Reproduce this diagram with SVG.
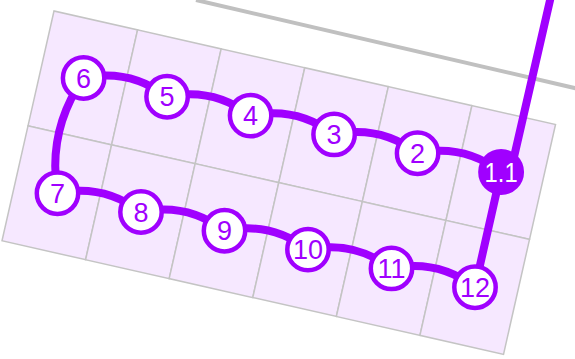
<svg xmlns="http://www.w3.org/2000/svg" width="575" height="359" viewBox="0 0 575 359">
<style>
.cell{fill:#f6e8ff;stroke:#c4c4c4;stroke-width:1.5}
.wire{fill:none;stroke:#a000ff;stroke-width:8;stroke-linecap:round;stroke-linejoin:round}
.node circle{fill:#ffffff;stroke:#a000ff;stroke-width:4.5}
.node text{font-family:"Liberation Sans",Arial,sans-serif;font-size:27px;fill:#a000ff;text-anchor:middle}
#n1_1 circle{fill:#a000ff}
#n1_1 text{fill:#ffffff}
</style>
<rect width="575" height="359" fill="#ffffff"/>
<line x1="196" y1="0" x2="577" y2="88.6" stroke="#c0c0c0" stroke-width="4"/>
<g id="grid" transform="translate(54,11) rotate(12.75)">
<rect class="cell" x="0" y="0" width="85.7" height="117.8"/>
<rect class="cell" x="85.7" y="0" width="85.7" height="117.8"/>
<rect class="cell" x="171.4" y="0" width="85.7" height="117.8"/>
<rect class="cell" x="257.1" y="0" width="85.7" height="117.8"/>
<rect class="cell" x="342.8" y="0" width="85.7" height="117.8"/>
<rect class="cell" x="428.5" y="0" width="85.7" height="117.8"/>
<rect class="cell" x="0" y="117.8" width="85.7" height="117.8"/>
<rect class="cell" x="85.7" y="117.8" width="85.7" height="117.8"/>
<rect class="cell" x="171.4" y="117.8" width="85.7" height="117.8"/>
<rect class="cell" x="257.1" y="117.8" width="85.7" height="117.8"/>
<rect class="cell" x="342.8" y="117.8" width="85.7" height="117.8"/>
<rect class="cell" x="428.5" y="117.8" width="85.7" height="117.8"/>
</g>
<g id="connectors">
<path class="wire" d="M551,-4 L511,170"/>
<path class="wire" d="M501.1,172 Q463.5,143.5 417.6,153.2 Q380,124.7 334.1,134.4 Q296.5,105.9 250.6,115.6 Q213,87.1 167.1,96.8 Q129.5,68.3 83.6,78 Q47.2,130.3 57.5,193.2 Q103.4,183.5 141,212 Q186.9,202.3 224.5,230.8 Q270.4,221.1 308,249.6 Q353.9,239.9 391.5,268.4 Q437.4,258.7 475,287.2 L501.1,172"/>
</g>
<g id="n1_1" class="node"><circle cx="501.1" cy="172" r="20.7"/><text x="501.1" y="181.6" textLength="33" lengthAdjust="spacingAndGlyphs">1.1</text></g>
<g id="n2" class="node"><circle cx="417.6" cy="153.2" r="20.7"/><text x="417.6" y="162.8">2</text></g>
<g id="n3" class="node"><circle cx="334.1" cy="134.4" r="20.7"/><text x="334.1" y="144">3</text></g>
<g id="n4" class="node"><circle cx="250.6" cy="115.6" r="20.7"/><text x="250.6" y="125.2">4</text></g>
<g id="n5" class="node"><circle cx="167.1" cy="96.8" r="20.7"/><text x="167.1" y="106.4">5</text></g>
<g id="n6" class="node"><circle cx="83.6" cy="78" r="20.7"/><text x="83.6" y="87.6">6</text></g>
<g id="n7" class="node"><circle cx="57.5" cy="193.2" r="20.7"/><text x="57.5" y="202.8">7</text></g>
<g id="n8" class="node"><circle cx="141" cy="212" r="20.7"/><text x="141" y="221.6">8</text></g>
<g id="n9" class="node"><circle cx="224.5" cy="230.8" r="20.7"/><text x="224.5" y="240.4">9</text></g>
<g id="n10" class="node"><circle cx="308" cy="249.6" r="20.7"/><text x="308" y="259.2">10</text></g>
<g id="n11" class="node"><circle cx="391.5" cy="268.4" r="20.7"/><text x="391.5" y="278">11</text></g>
<g id="n12" class="node"><circle cx="475" cy="287.2" r="20.7"/><text x="475" y="296.8">12</text></g>
</svg>
